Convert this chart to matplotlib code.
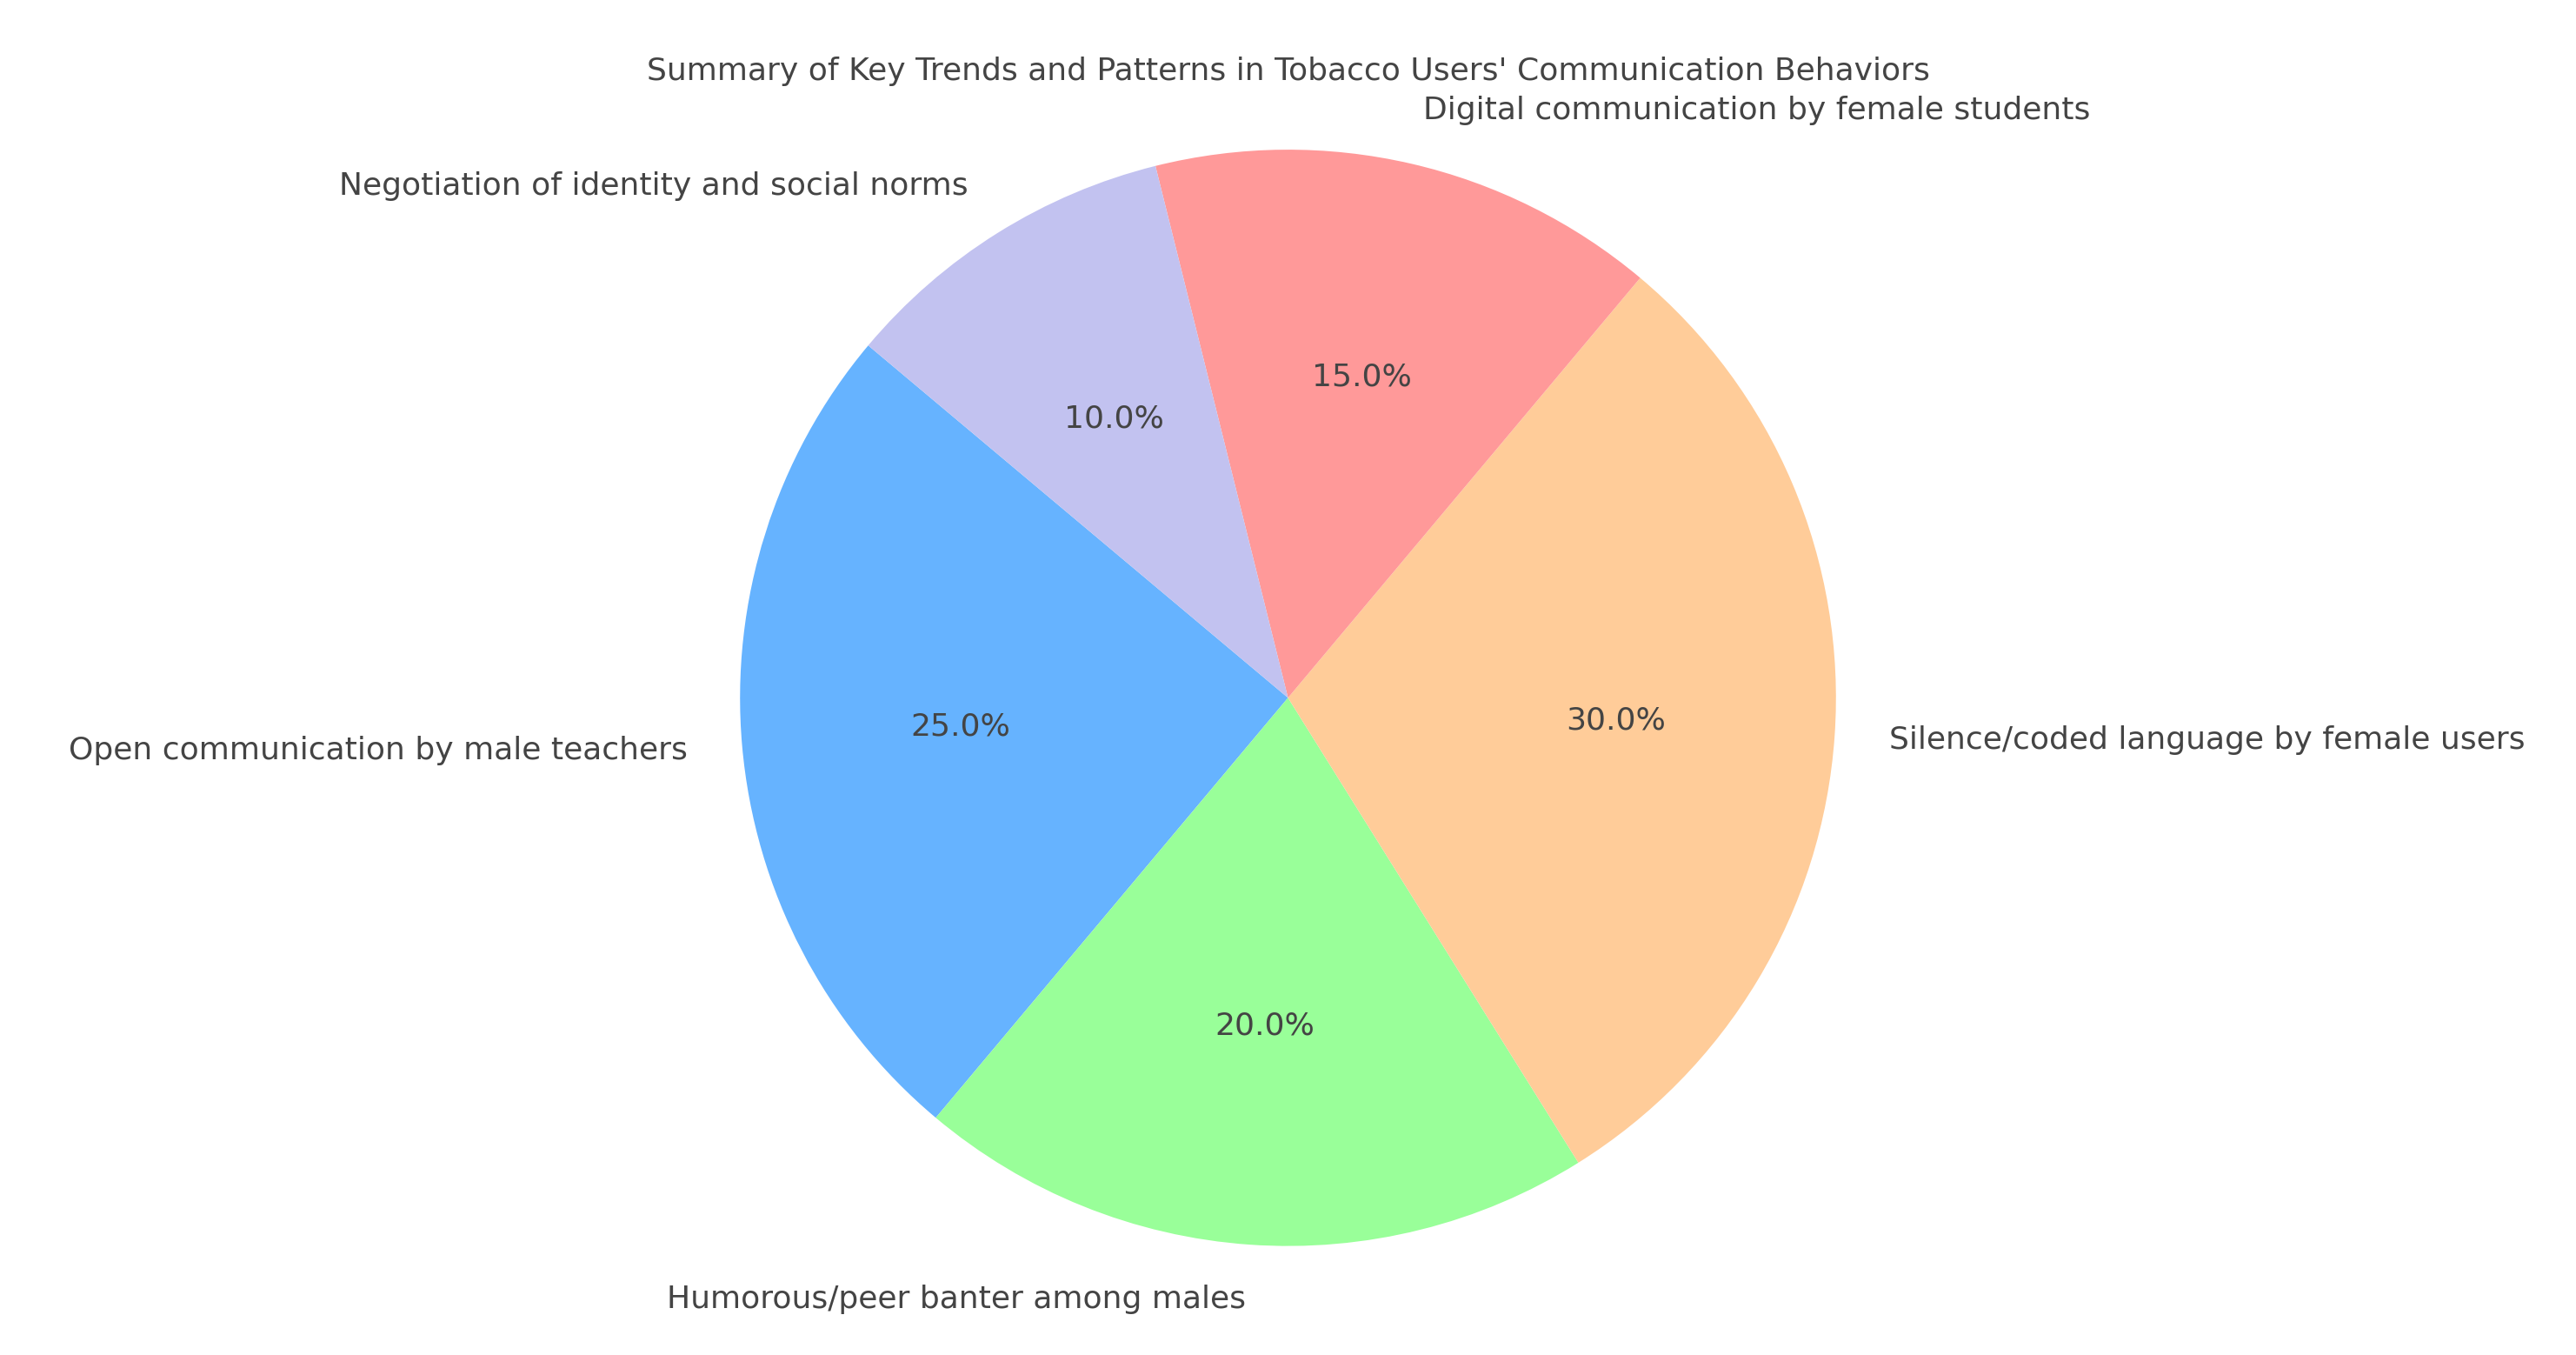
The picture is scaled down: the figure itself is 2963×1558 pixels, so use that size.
import matplotlib.pyplot as plt

labels = ["Open communication by male teachers", "Humorous/peer banter among males",
          "Silence/coded language by female users", "Digital communication by female students",
          "Negotiation of identity and social norms"]
sizes = [25, 20, 30, 15, 10]
colors = ["#66b3ff", "#99ff99", "#ffcc99", "#ff9999", "#c2c2f0"]

fig, ax = plt.subplots(figsize=(14.815, 7.79), dpi=200)
fig.subplots_adjust(left=0.0, right=1.0, top=0.93, bottom=0.04)
ax.pie(sizes, labels=labels, colors=colors, autopct="%1.1f%%", startangle=140,
       textprops={"color": "#444444", "fontsize": 13})
ax.axis("equal")
ax.set_title("Summary of Key Trends and Patterns in Tobacco Users' Communication Behaviors",
             color="#444444", fontsize=13)
fig.savefig("out.png")
